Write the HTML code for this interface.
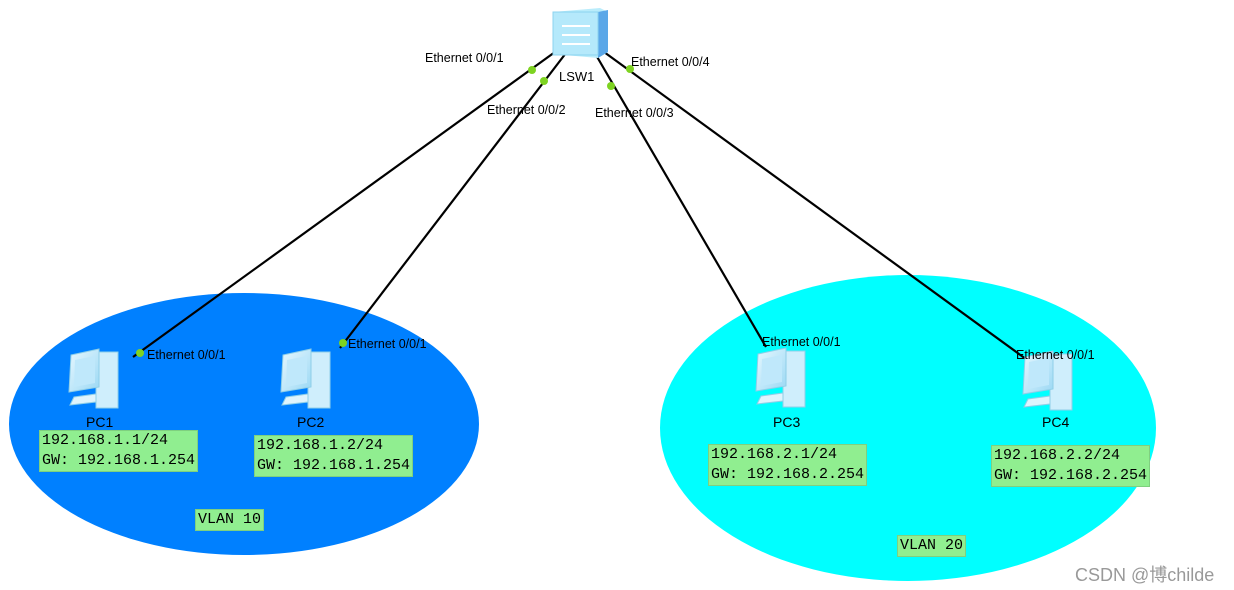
<!DOCTYPE html>
<html><head><style>
body{margin:0;width:1234px;height:590px;background:#fff;overflow:hidden;position:relative;font-family:"Liberation Sans",sans-serif}
.t{position:absolute;font-size:12.5px;color:#000;white-space:nowrap}
.g{position:absolute;background:#90ee90;font-family:"Liberation Mono",monospace;font-size:15px;line-height:20px;padding:0 2px;border:1px solid #7fd07f;white-space:nowrap}
</style></head><body>
<svg width="1234" height="590" style="position:absolute;left:0;top:0">
<defs>
<linearGradient id="pc" x1="0" y1="0" x2="1" y2="1"><stop offset="0" stop-color="#e8f8ff"/><stop offset="1" stop-color="#9ad8f4"/></linearGradient>
<g id="pcicon">
<rect x="30" y="5" width="22" height="56" fill="#cfeefc" stroke="#8fcfe8"/>
<polygon points="5,8 33,2 33,40 3,45" fill="url(#pc)" stroke="#8fcfe8"/>
<polygon points="9,13 29,9 29,36 8,40" fill="#bfe8fb"/>
<polygon points="8,50 30,47 30,55 4,58" fill="#dff4fd" stroke="#8fcfe8"/>
</g>
</defs>
<ellipse cx="244" cy="424" rx="235" ry="131" fill="#0080ff"/>
<ellipse cx="908" cy="428" rx="248" ry="153" fill="#00ffff"/>
<g stroke="#000" stroke-width="2.2">
<line x1="555" y1="52" x2="133" y2="357"/>
<line x1="566" y1="53" x2="340" y2="348"/>
<line x1="596" y1="55" x2="766" y2="347"/>
<line x1="604" y1="52" x2="1030" y2="362"/>
</g>
<use href="#pcicon" x="66" y="347"/>
<use href="#pcicon" x="278" y="347"/>
<use href="#pcicon" x="753" y="346"/>
<use href="#pcicon" x="1020" y="349"/>
<polygon points="553,12 600,8 608,12 608,52 598,58 553,54" fill="#b9ecfb"/>
<polygon points="598,12 608,10 608,52 598,58" fill="#5aa7e8"/>
<rect x="553" y="12" width="45" height="43" fill="#b5e9fb" stroke="#8cd3ef"/>
<g stroke="#fff" stroke-width="2" fill="none"><path d="M562 26h28M562 35h28M562 44h28"/></g>
<g fill="#7ed321">
<circle cx="532" cy="70" r="4"/><circle cx="544" cy="81" r="4"/><circle cx="611" cy="86" r="4"/><circle cx="630" cy="69" r="4"/>
<circle cx="140" cy="353" r="4"/><circle cx="343" cy="343" r="4"/>
</g>
</svg>
<div class="t" style="left:425px;top:51px">Ethernet 0/0/1</div>
<div class="t" style="left:487px;top:103px">Ethernet 0/0/2</div>
<div class="t" style="left:595px;top:106px">Ethernet 0/0/3</div>
<div class="t" style="left:631px;top:55px">Ethernet 0/0/4</div>
<div class="t" style="left:559px;top:69px;font-size:13px">LSW1</div>
<div class="t" style="left:147px;top:348px">Ethernet 0/0/1</div>
<div class="t" style="left:348px;top:337px">Ethernet 0/0/1</div>
<div class="t" style="left:762px;top:335px">Ethernet 0/0/1</div>
<div class="t" style="left:1016px;top:348px">Ethernet 0/0/1</div>
<div class="t" style="left:86px;top:414px;font-size:14px">PC1</div>
<div class="t" style="left:297px;top:414px;font-size:14px">PC2</div>
<div class="t" style="left:773px;top:414px;font-size:14px">PC3</div>
<div class="t" style="left:1042px;top:414px;font-size:14px">PC4</div>
<div class="g" style="left:39px;top:430px">192.168.1.1/24<br>GW: 192.168.1.254</div>
<div class="g" style="left:254px;top:435px">192.168.1.2/24<br>GW: 192.168.1.254</div>
<div class="g" style="left:708px;top:444px">192.168.2.1/24<br>GW: 192.168.2.254</div>
<div class="g" style="left:991px;top:445px">192.168.2.2/24<br>GW: 192.168.2.254</div>
<div class="g" style="left:195px;top:509px">VLAN 10</div>
<div class="g" style="left:897px;top:535px">VLAN 20</div>
<div class="t" style="left:1075px;top:561px;font-size:18px;color:#999">CSDN @<span style="font-family:'Noto Sans CJK SC',sans-serif">博</span>childe</div>
</body></html>
